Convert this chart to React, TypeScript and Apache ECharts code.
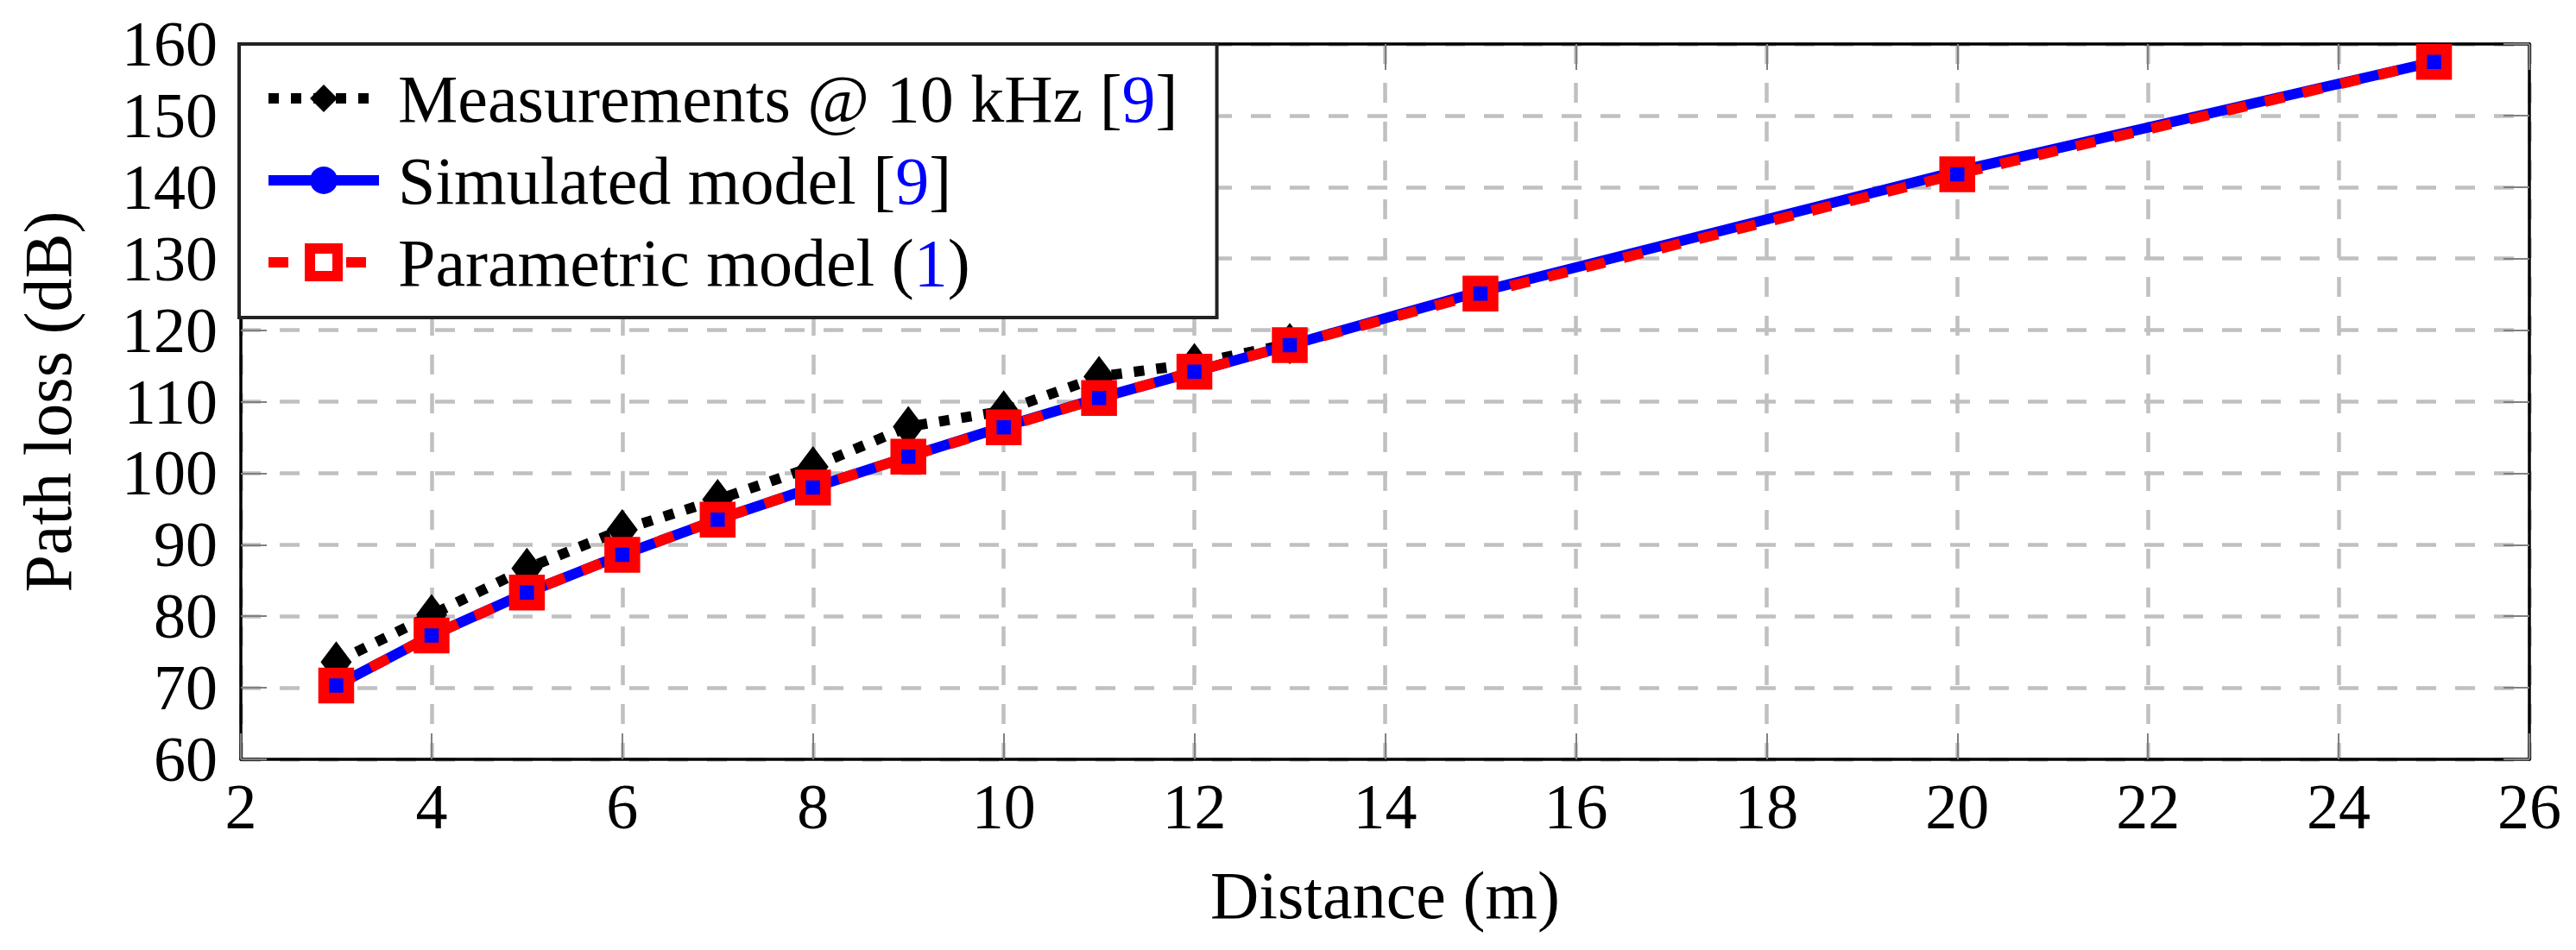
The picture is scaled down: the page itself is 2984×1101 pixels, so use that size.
import React, { useEffect, useRef } from "react";
import * as echarts from "echarts";

// ---- data ----
const distMeas = [3, 4, 5, 6, 7, 8, 9, 10, 11, 12, 13];
const measured = [73.6, 80.2, 86.7, 92.1, 96.3, 100.9, 106.5, 108.7, 113.5, 115.3, 118.1];

const distModel = [3, 4, 5, 6, 7, 8, 9, 10, 11, 12, 13, 15, 20, 25];
const simulated = [70.3, 77.3, 83.3, 88.6, 93.5, 98.0, 102.3, 106.5, 110.5, 114.2, 117.9, 125.4, 142.2, 157.5];
const parametric = [70.3, 77.3, 83.3, 88.6, 93.5, 98.0, 102.3, 106.4, 110.5, 114.2, 117.9, 125.1, 141.8, 157.5];

const seriesNames = ["Measurements @ 10 kHz [9]", "Simulated model [9]", "Parametric model (1)"];
const legendLabels = ["Measurements @ 10 kHz [{b|9}]", "Simulated model [{b|9}]", "Parametric model ({b|1})"];

const xMin = 2, xMax = 26, xStep = 2;
const yMin = 60, yMax = 160, yStep = 10;
const xName = "Distance (m)";
const yName = "Path loss (dB)";

const FONT = "Liberation Serif";

export default function App() {
  const ref = useRef<HTMLDivElement>(null);
  useEffect(() => {
    const chart = echarts.init(ref.current!, null, { renderer: "svg" });
    const gridLine = { show: true, lineStyle: { color: "#c0c0c0", width: 4.5, type: [23, 22] as any } };
    const tick = { show: true, inside: true, length: 30, lineStyle: { color: "#808080", width: 2 } };
    const axLine = { show: true, onZero: false, lineStyle: { color: "#000", width: 3.5 } };
    const option: any = {
      animation: false,
      backgroundColor: "#fff",
      grid: { left: 269, top: 43, right: 46, bottom: 213, containLabel: false },
      legend: {
        show: true,
        orient: "vertical",
        left: 269,
        top: 43,
        padding: [24, 45, 25, 28],
        itemGap: 17,
        itemWidth: 128,
        itemHeight: 40,
        backgroundColor: "#fff",
        borderColor: "#222",
        borderWidth: 4,
        borderRadius: 0,
        selectedMode: false,
        lineStyle: { width: 12 },
        formatter: (name: string) => legendLabels[seriesNames.indexOf(name)],
        textStyle: {
          fontFamily: FONT,
          fontSize: 78,
          lineHeight: 78,
          color: "#000",
          padding: [0, 0, 0, 17],
          rich: { b: { color: "#0000ff", fontFamily: FONT, fontSize: 78, lineHeight: 78 } },
        },
        data: [
          { name: seriesNames[0], itemStyle: { color: "#000", borderWidth: 0 } },
          { name: seriesNames[1], itemStyle: { color: "#0000ff", borderWidth: 0 } },
          { name: seriesNames[2], itemStyle: { color: "#fff", borderColor: "#ff0000", borderWidth: 12 } },
        ],
      },
      xAxis: [
        {
          type: "value",
          min: xMin,
          max: xMax,
          interval: xStep,
          position: "bottom",
          name: xName,
          nameLocation: "middle",
          nameGap: 118,
          nameTextStyle: { fontFamily: FONT, fontSize: 78, color: "#000" },
          axisLine: axLine,
          axisTick: tick,
          axisLabel: { fontFamily: FONT, fontSize: 74, color: "#000", margin: 18 },
          splitLine: gridLine,
        },
        {
          type: "value",
          min: xMin,
          max: xMax,
          interval: xStep,
          position: "top",
          axisLine: axLine,
          axisTick: tick,
          axisLabel: { show: false },
          splitLine: { show: false },
        },
      ],
      yAxis: [
        {
          type: "value",
          min: yMin,
          max: yMax,
          interval: yStep,
          position: "left",
          name: yName,
          nameLocation: "middle",
          nameGap: 185,
          nameRotate: 90,
          nameTextStyle: { fontFamily: FONT, fontSize: 78, color: "#000" },
          axisLine: axLine,
          axisTick: tick,
          axisLabel: { fontFamily: FONT, fontSize: 74, color: "#000", margin: 27 },
          splitLine: gridLine,
        },
        {
          type: "value",
          min: yMin,
          max: yMax,
          interval: yStep,
          position: "right",
          axisLine: axLine,
          axisTick: tick,
          axisLabel: { show: false },
          splitLine: { show: false },
        },
      ],
      series: [
        {
          name: seriesNames[0],
          type: "line",
          data: distMeas.map((d, i) => [d, measured[i]]),
          symbol: "diamond",
          symbolSize: [36, 48],
          itemStyle: { color: "#000" },
          lineStyle: { color: "#000", width: 12, type: [12, 14], cap: "butt" },
          emphasis: { disabled: true },
          silent: true,
          clip: false,
        },
        {
          name: seriesNames[1],
          type: "line",
          data: distModel.map((d, i) => [d, simulated[i]]),
          symbol: "circle",
          symbolSize: 28,
          itemStyle: { color: "#0000ff" },
          lineStyle: { color: "#0000ff", width: 12 },
          emphasis: { disabled: true },
          silent: true,
          clip: false,
        },
        {
          name: seriesNames[2],
          type: "line",
          data: distModel.map((d, i) => [d, parametric[i]]),
          symbol: "rect",
          symbolSize: 29,
          itemStyle: { color: "#0000ff", borderColor: "#ff0000", borderWidth: 12.5 },
          lineStyle: { color: "#ff0000", width: 12, type: [23, 22], cap: "butt" },
          emphasis: { disabled: true },
          silent: true,
          clip: false,
        },
      ],
    };
    chart.setOption(option);
    return () => chart.dispose();
  }, []);
  return <div ref={ref} style={{ width: 2968, height: 1085 }} />;
}
